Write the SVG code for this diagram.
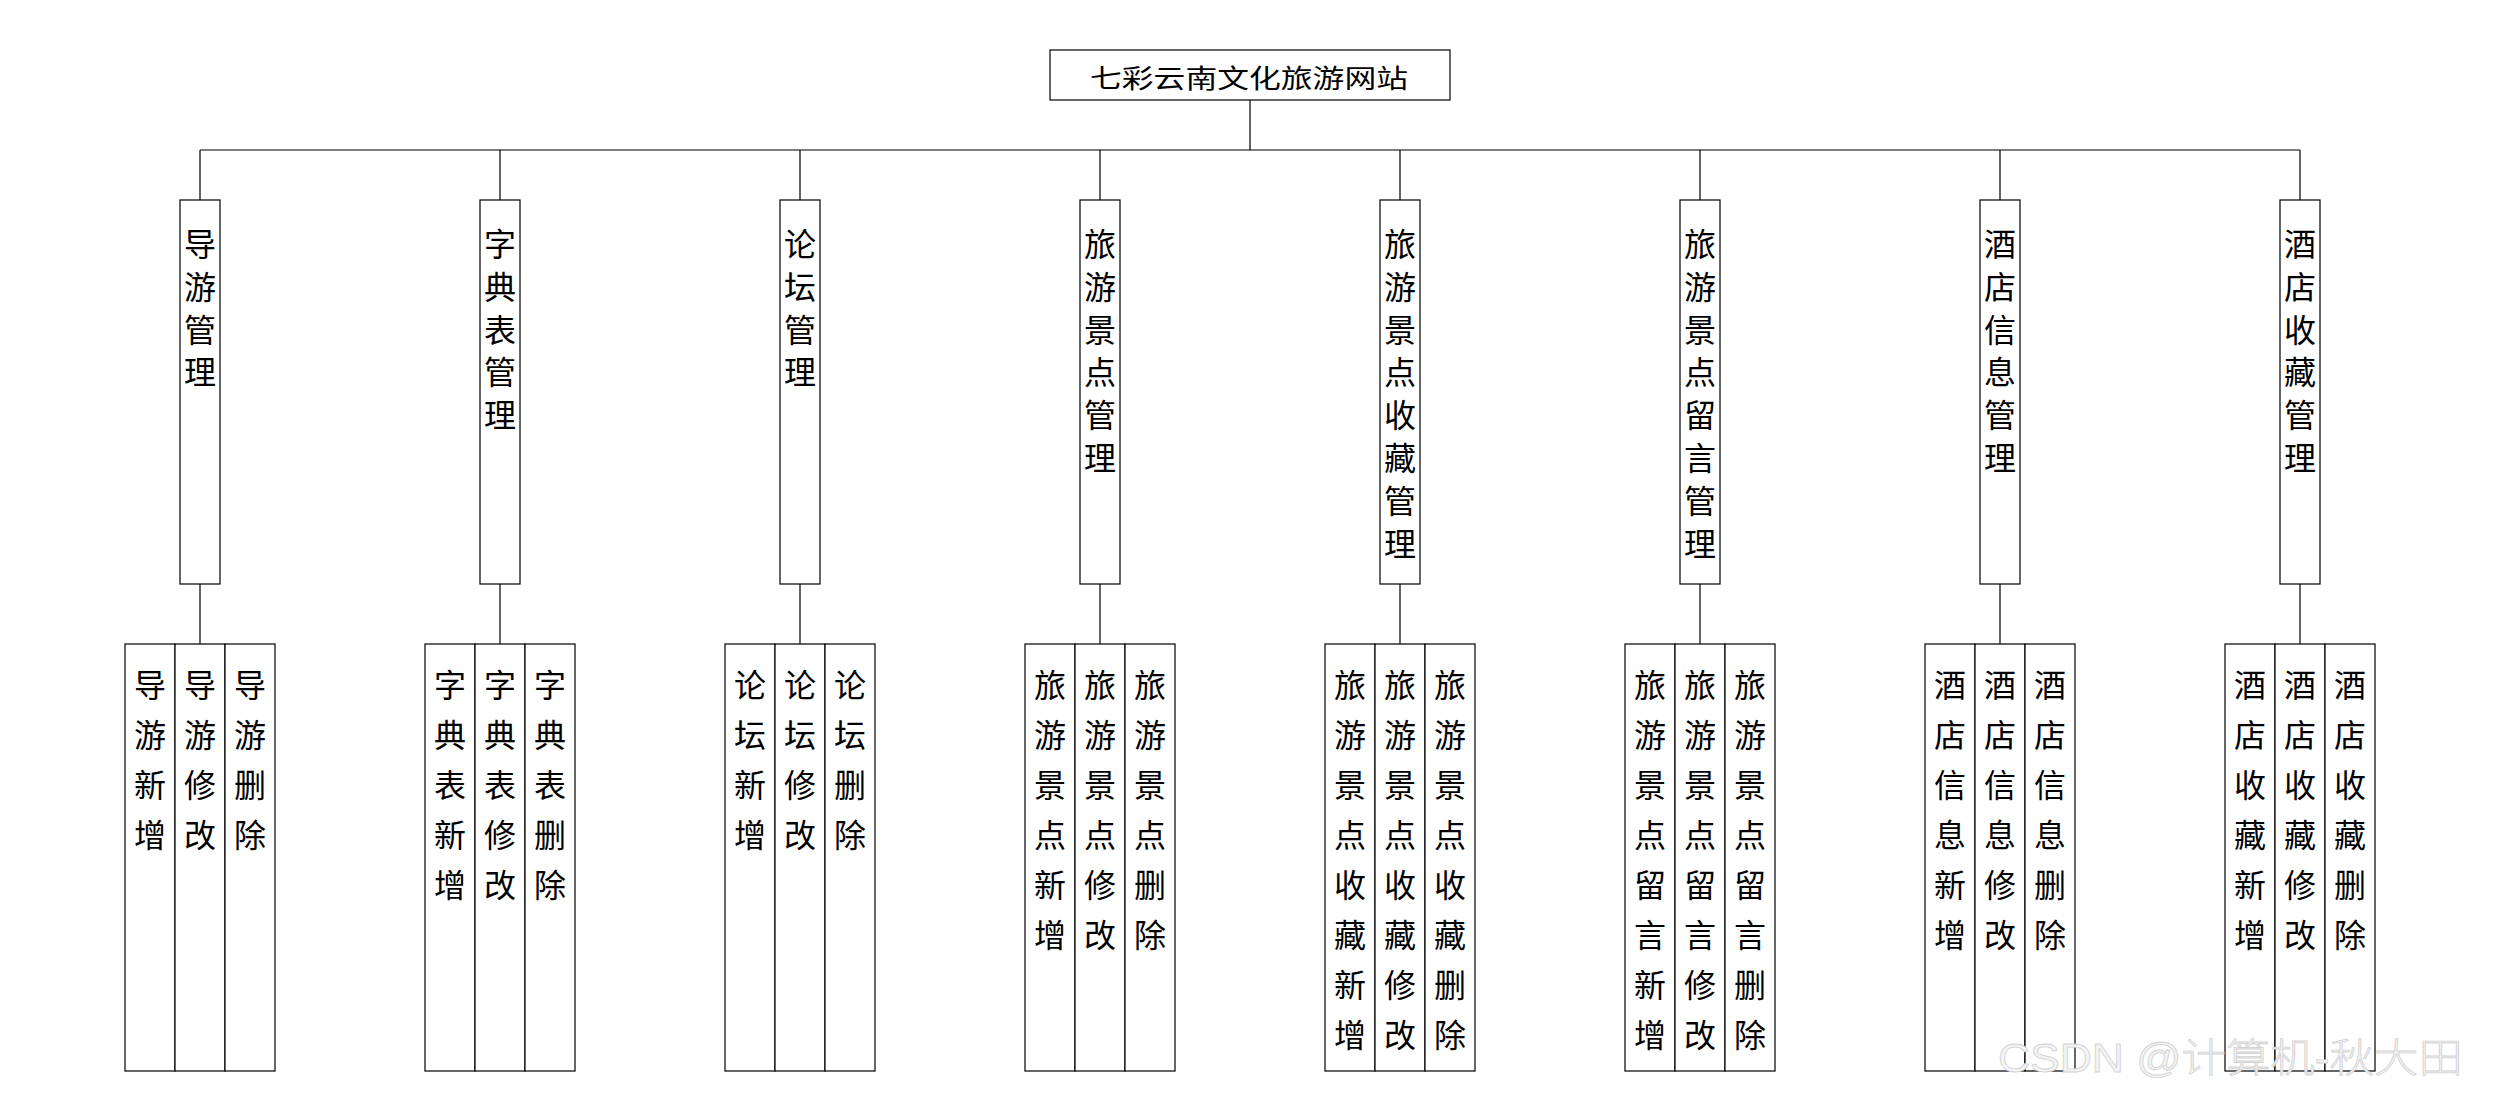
<svg xmlns="http://www.w3.org/2000/svg" width="2500" height="1100" viewBox="0 0 2500 1100">
<style>
.box{fill:#fff;stroke:#000;stroke-width:1.2}
.ln{stroke:#000;stroke-width:1.2;fill:none}
.t{font-family:"Noto Sans CJK SC","Noto Sans",sans-serif;font-size:32px;fill:#000;text-anchor:middle;dominant-baseline:central}
.title{font-family:"Noto Sans CJK SC","Noto Sans",sans-serif;font-size:26px;fill:#000;text-anchor:middle;dominant-baseline:central}
.wm{font-family:"Liberation Sans","Noto Sans CJK SC",sans-serif;font-size:40px;font-weight:300;fill:#f4f4f4;stroke:#d2d2d2;stroke-width:0.8}
</style>
<rect width="2500" height="1100" fill="#fff"/>
<g id="connectors">
<path class="ln" d="M1250 100V150M200 150H2300"/>
<path class="ln" d="M200 150V200M500 150V200M800 150V200M1100 150V200M1400 150V200M1700 150V200M2000 150V200M2300 150V200"/>
<path class="ln" d="M200 584V644M500 584V644M800 584V644M1100 584V644M1400 584V644M1700 584V644M2000 584V644M2300 584V644"/>
</g>
<g id="root">
<rect class="box" x="1050" y="50" width="400" height="50"/>
<text class="title" x="1249" y="76.5" textLength="318" lengthAdjust="spacingAndGlyphs">七彩云南文化旅游网站</text>
</g>

<g id="m1"><rect class="box" x="180" y="200" width="40" height="384"/>
<text class="t"><tspan x="200" y="242">导</tspan><tspan x="200" y="284.8">游</tspan><tspan x="200" y="327.6">管</tspan><tspan x="200" y="370.4">理</tspan></text></g>
<g id="m1a"><rect class="box" x="125" y="644" width="50" height="427"/>
<text class="t"><tspan x="150" y="683">导</tspan><tspan x="150" y="733">游</tspan><tspan x="150" y="783">新</tspan><tspan x="150" y="833">增</tspan></text></g>
<g id="m1b"><rect class="box" x="175" y="644" width="50" height="427"/>
<text class="t"><tspan x="200" y="683">导</tspan><tspan x="200" y="733">游</tspan><tspan x="200" y="783">修</tspan><tspan x="200" y="833">改</tspan></text></g>
<g id="m1c"><rect class="box" x="225" y="644" width="50" height="427"/>
<text class="t"><tspan x="250" y="683">导</tspan><tspan x="250" y="733">游</tspan><tspan x="250" y="783">删</tspan><tspan x="250" y="833">除</tspan></text></g>

<g id="m2"><rect class="box" x="480" y="200" width="40" height="384"/>
<text class="t"><tspan x="500" y="242">字</tspan><tspan x="500" y="284.8">典</tspan><tspan x="500" y="327.6">表</tspan><tspan x="500" y="370.4">管</tspan><tspan x="500" y="413.2">理</tspan></text></g>
<g id="m2a"><rect class="box" x="425" y="644" width="50" height="427"/>
<text class="t"><tspan x="450" y="683">字</tspan><tspan x="450" y="733">典</tspan><tspan x="450" y="783">表</tspan><tspan x="450" y="833">新</tspan><tspan x="450" y="883">增</tspan></text></g>
<g id="m2b"><rect class="box" x="475" y="644" width="50" height="427"/>
<text class="t"><tspan x="500" y="683">字</tspan><tspan x="500" y="733">典</tspan><tspan x="500" y="783">表</tspan><tspan x="500" y="833">修</tspan><tspan x="500" y="883">改</tspan></text></g>
<g id="m2c"><rect class="box" x="525" y="644" width="50" height="427"/>
<text class="t"><tspan x="550" y="683">字</tspan><tspan x="550" y="733">典</tspan><tspan x="550" y="783">表</tspan><tspan x="550" y="833">删</tspan><tspan x="550" y="883">除</tspan></text></g>

<g id="m3"><rect class="box" x="780" y="200" width="40" height="384"/>
<text class="t"><tspan x="800" y="242">论</tspan><tspan x="800" y="284.8">坛</tspan><tspan x="800" y="327.6">管</tspan><tspan x="800" y="370.4">理</tspan></text></g>
<g id="m3a"><rect class="box" x="725" y="644" width="50" height="427"/>
<text class="t"><tspan x="750" y="683">论</tspan><tspan x="750" y="733">坛</tspan><tspan x="750" y="783">新</tspan><tspan x="750" y="833">增</tspan></text></g>
<g id="m3b"><rect class="box" x="775" y="644" width="50" height="427"/>
<text class="t"><tspan x="800" y="683">论</tspan><tspan x="800" y="733">坛</tspan><tspan x="800" y="783">修</tspan><tspan x="800" y="833">改</tspan></text></g>
<g id="m3c"><rect class="box" x="825" y="644" width="50" height="427"/>
<text class="t"><tspan x="850" y="683">论</tspan><tspan x="850" y="733">坛</tspan><tspan x="850" y="783">删</tspan><tspan x="850" y="833">除</tspan></text></g>

<g id="m4"><rect class="box" x="1080" y="200" width="40" height="384"/>
<text class="t"><tspan x="1100" y="242">旅</tspan><tspan x="1100" y="284.8">游</tspan><tspan x="1100" y="327.6">景</tspan><tspan x="1100" y="370.4">点</tspan><tspan x="1100" y="413.2">管</tspan><tspan x="1100" y="456">理</tspan></text></g>
<g id="m4a"><rect class="box" x="1025" y="644" width="50" height="427"/>
<text class="t"><tspan x="1050" y="683">旅</tspan><tspan x="1050" y="733">游</tspan><tspan x="1050" y="783">景</tspan><tspan x="1050" y="833">点</tspan><tspan x="1050" y="883">新</tspan><tspan x="1050" y="933">增</tspan></text></g>
<g id="m4b"><rect class="box" x="1075" y="644" width="50" height="427"/>
<text class="t"><tspan x="1100" y="683">旅</tspan><tspan x="1100" y="733">游</tspan><tspan x="1100" y="783">景</tspan><tspan x="1100" y="833">点</tspan><tspan x="1100" y="883">修</tspan><tspan x="1100" y="933">改</tspan></text></g>
<g id="m4c"><rect class="box" x="1125" y="644" width="50" height="427"/>
<text class="t"><tspan x="1150" y="683">旅</tspan><tspan x="1150" y="733">游</tspan><tspan x="1150" y="783">景</tspan><tspan x="1150" y="833">点</tspan><tspan x="1150" y="883">删</tspan><tspan x="1150" y="933">除</tspan></text></g>

<g id="m5"><rect class="box" x="1380" y="200" width="40" height="384"/>
<text class="t"><tspan x="1400" y="242">旅</tspan><tspan x="1400" y="284.8">游</tspan><tspan x="1400" y="327.6">景</tspan><tspan x="1400" y="370.4">点</tspan><tspan x="1400" y="413.2">收</tspan><tspan x="1400" y="456">藏</tspan><tspan x="1400" y="498.8">管</tspan><tspan x="1400" y="541.6">理</tspan></text></g>
<g id="m5a"><rect class="box" x="1325" y="644" width="50" height="427"/>
<text class="t"><tspan x="1350" y="683">旅</tspan><tspan x="1350" y="733">游</tspan><tspan x="1350" y="783">景</tspan><tspan x="1350" y="833">点</tspan><tspan x="1350" y="883">收</tspan><tspan x="1350" y="933">藏</tspan><tspan x="1350" y="983">新</tspan><tspan x="1350" y="1033">增</tspan></text></g>
<g id="m5b"><rect class="box" x="1375" y="644" width="50" height="427"/>
<text class="t"><tspan x="1400" y="683">旅</tspan><tspan x="1400" y="733">游</tspan><tspan x="1400" y="783">景</tspan><tspan x="1400" y="833">点</tspan><tspan x="1400" y="883">收</tspan><tspan x="1400" y="933">藏</tspan><tspan x="1400" y="983">修</tspan><tspan x="1400" y="1033">改</tspan></text></g>
<g id="m5c"><rect class="box" x="1425" y="644" width="50" height="427"/>
<text class="t"><tspan x="1450" y="683">旅</tspan><tspan x="1450" y="733">游</tspan><tspan x="1450" y="783">景</tspan><tspan x="1450" y="833">点</tspan><tspan x="1450" y="883">收</tspan><tspan x="1450" y="933">藏</tspan><tspan x="1450" y="983">删</tspan><tspan x="1450" y="1033">除</tspan></text></g>

<g id="m6"><rect class="box" x="1680" y="200" width="40" height="384"/>
<text class="t"><tspan x="1700" y="242">旅</tspan><tspan x="1700" y="284.8">游</tspan><tspan x="1700" y="327.6">景</tspan><tspan x="1700" y="370.4">点</tspan><tspan x="1700" y="413.2">留</tspan><tspan x="1700" y="456">言</tspan><tspan x="1700" y="498.8">管</tspan><tspan x="1700" y="541.6">理</tspan></text></g>
<g id="m6a"><rect class="box" x="1625" y="644" width="50" height="427"/>
<text class="t"><tspan x="1650" y="683">旅</tspan><tspan x="1650" y="733">游</tspan><tspan x="1650" y="783">景</tspan><tspan x="1650" y="833">点</tspan><tspan x="1650" y="883">留</tspan><tspan x="1650" y="933">言</tspan><tspan x="1650" y="983">新</tspan><tspan x="1650" y="1033">增</tspan></text></g>
<g id="m6b"><rect class="box" x="1675" y="644" width="50" height="427"/>
<text class="t"><tspan x="1700" y="683">旅</tspan><tspan x="1700" y="733">游</tspan><tspan x="1700" y="783">景</tspan><tspan x="1700" y="833">点</tspan><tspan x="1700" y="883">留</tspan><tspan x="1700" y="933">言</tspan><tspan x="1700" y="983">修</tspan><tspan x="1700" y="1033">改</tspan></text></g>
<g id="m6c"><rect class="box" x="1725" y="644" width="50" height="427"/>
<text class="t"><tspan x="1750" y="683">旅</tspan><tspan x="1750" y="733">游</tspan><tspan x="1750" y="783">景</tspan><tspan x="1750" y="833">点</tspan><tspan x="1750" y="883">留</tspan><tspan x="1750" y="933">言</tspan><tspan x="1750" y="983">删</tspan><tspan x="1750" y="1033">除</tspan></text></g>

<g id="m7"><rect class="box" x="1980" y="200" width="40" height="384"/>
<text class="t"><tspan x="2000" y="242">酒</tspan><tspan x="2000" y="284.8">店</tspan><tspan x="2000" y="327.6">信</tspan><tspan x="2000" y="370.4">息</tspan><tspan x="2000" y="413.2">管</tspan><tspan x="2000" y="456">理</tspan></text></g>
<g id="m7a"><rect class="box" x="1925" y="644" width="50" height="427"/>
<text class="t"><tspan x="1950" y="683">酒</tspan><tspan x="1950" y="733">店</tspan><tspan x="1950" y="783">信</tspan><tspan x="1950" y="833">息</tspan><tspan x="1950" y="883">新</tspan><tspan x="1950" y="933">增</tspan></text></g>
<g id="m7b"><rect class="box" x="1975" y="644" width="50" height="427"/>
<text class="t"><tspan x="2000" y="683">酒</tspan><tspan x="2000" y="733">店</tspan><tspan x="2000" y="783">信</tspan><tspan x="2000" y="833">息</tspan><tspan x="2000" y="883">修</tspan><tspan x="2000" y="933">改</tspan></text></g>
<g id="m7c"><rect class="box" x="2025" y="644" width="50" height="427"/>
<text class="t"><tspan x="2050" y="683">酒</tspan><tspan x="2050" y="733">店</tspan><tspan x="2050" y="783">信</tspan><tspan x="2050" y="833">息</tspan><tspan x="2050" y="883">删</tspan><tspan x="2050" y="933">除</tspan></text></g>

<g id="m8"><rect class="box" x="2280" y="200" width="40" height="384"/>
<text class="t"><tspan x="2300" y="242">酒</tspan><tspan x="2300" y="284.8">店</tspan><tspan x="2300" y="327.6">收</tspan><tspan x="2300" y="370.4">藏</tspan><tspan x="2300" y="413.2">管</tspan><tspan x="2300" y="456">理</tspan></text></g>
<g id="m8a"><rect class="box" x="2225" y="644" width="50" height="427"/>
<text class="t"><tspan x="2250" y="683">酒</tspan><tspan x="2250" y="733">店</tspan><tspan x="2250" y="783">收</tspan><tspan x="2250" y="833">藏</tspan><tspan x="2250" y="883">新</tspan><tspan x="2250" y="933">增</tspan></text></g>
<g id="m8b"><rect class="box" x="2275" y="644" width="50" height="427"/>
<text class="t"><tspan x="2300" y="683">酒</tspan><tspan x="2300" y="733">店</tspan><tspan x="2300" y="783">收</tspan><tspan x="2300" y="833">藏</tspan><tspan x="2300" y="883">修</tspan><tspan x="2300" y="933">改</tspan></text></g>
<g id="m8c"><rect class="box" x="2325" y="644" width="50" height="427"/>
<text class="t"><tspan x="2350" y="683">酒</tspan><tspan x="2350" y="733">店</tspan><tspan x="2350" y="783">收</tspan><tspan x="2350" y="833">藏</tspan><tspan x="2350" y="883">删</tspan><tspan x="2350" y="933">除</tspan></text></g>

<text class="wm" x="1998" y="1072" textLength="465" lengthAdjust="spacingAndGlyphs">CSDN @计算机-秋大田</text>
</svg>
